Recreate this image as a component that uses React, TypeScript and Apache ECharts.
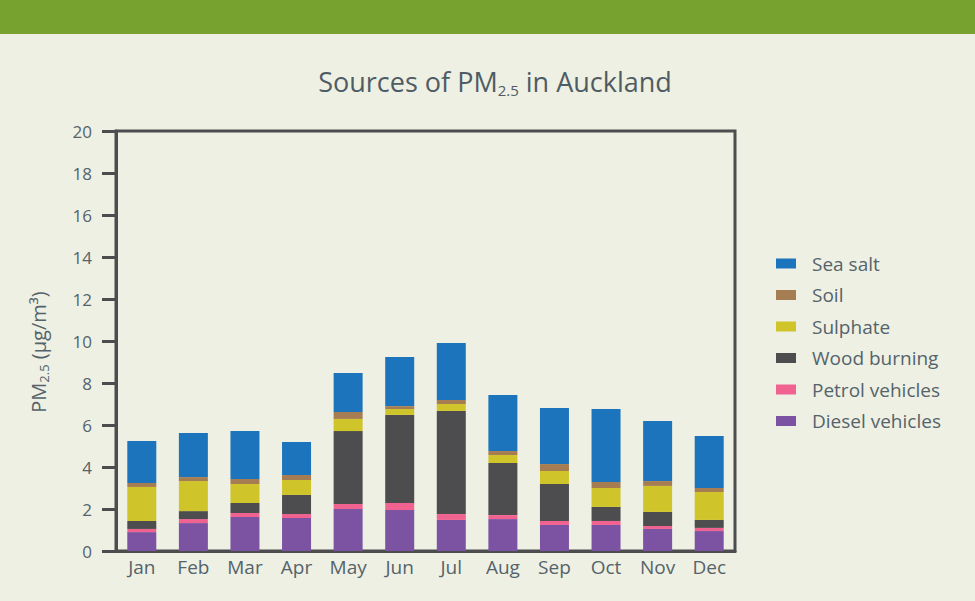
import React, { useEffect, useRef } from "react";
import * as echarts from "echarts";

const months = ["Jan", "Feb", "Mar", "Apr", "May", "Jun", "Jul", "Aug", "Sep", "Oct", "Nov", "Dec"];
const diesel = [0.9, 1.33, 1.62, 1.57, 2.0, 1.95, 1.48, 1.52, 1.24, 1.24, 1.05, 0.95];
const petrol = [0.15, 0.19, 0.19, 0.19, 0.24, 0.34, 0.28, 0.19, 0.19, 0.19, 0.14, 0.15];
const wood = [0.38, 0.38, 0.48, 0.91, 3.47, 4.19, 4.91, 2.48, 1.76, 0.67, 0.67, 0.38];
const sulphate = [1.62, 1.43, 0.9, 0.71, 0.58, 0.28, 0.33, 0.38, 0.62, 0.9, 1.24, 1.33];
const soil = [0.19, 0.19, 0.24, 0.24, 0.33, 0.14, 0.19, 0.19, 0.33, 0.29, 0.23, 0.19];
const seaSalt = [2.0, 2.1, 2.28, 1.57, 1.86, 2.34, 2.71, 2.67, 2.67, 3.47, 2.86, 2.48];
const yTicks = [0, 2, 4, 6, 8, 10, 12, 14, 16, 18, 20];
const legendOrder = ["Sea salt", "Soil", "Sulphate", "Wood burning", "Petrol vehicles", "Diesel vehicles"];

const TEXT = "#55636b";
const AXIS = "#4d4d4f";

export default function App() {
  const ref = useRef<HTMLDivElement>(null);
  useEffect(() => {
    document.body.style.margin = "0";
    const chart = echarts.init(ref.current!, null, { renderer: "svg" });
    const mk = (name: string, data: number[], color: string) => ({
      name,
      type: "bar",
      stack: "pm",
      data,
      barWidth: 29,
      itemStyle: { color },
    });
    chart.setOption({
      animation: false,
      backgroundColor: "#eef0e3",
      textStyle: { fontFamily: "Open Sans" },
      title: {
        text: "Sources of PM{sub|2.5} in Auckland",
        left: 490,
        textAlign: "center",
        top: 60,
        textStyle: {
          fontFamily: "Open Sans",
          fontSize: 27,
          fontWeight: "normal",
          color: "#4f5c64",
          lineHeight: 32,
          rich: {
            sub: { fontSize: 15, color: "#4f5c64", verticalAlign: "bottom", lineHeight: 12, fontFamily: "Open Sans" },
          },
        },
      },
      legend: {
        data: legendOrder,
        orient: "vertical",
        left: 776,
        top: 254,
        itemWidth: 20,
        itemHeight: 10,
        itemGap: 12.5,
        icon: "rect",
        padding: 0,
        textStyle: { fontSize: 19, color: TEXT, padding: [0, 0, 0, 11] },
      },
      graphic: [
        { type: "rect", shape: { x: 0, y: 0, width: 975, height: 34 }, style: { fill: "#78a22f" } },
        {
          type: "text",
          x: 38,
          y: 352,
          rotation: Math.PI / 2,
          style: {
            text: "PM{sub|2.5} (µg/m³)",
            align: "center",
            verticalAlign: "middle",
            fontSize: 20,
            fontFamily: "Open Sans",
            fill: TEXT,
            lineHeight: 24,
            rich: {
              sub: { fontSize: 13, fill: TEXT, verticalAlign: "bottom", lineHeight: 12, fontFamily: "Open Sans" },
            },
          },
        },
      ],
      grid: {
        left: 116,
        top: 131,
        width: 619,
        height: 420,
        show: true,
        borderColor: AXIS,
        borderWidth: 3,
        backgroundColor: "transparent",
      },
      xAxis: {
        type: "category",
        data: months,
        axisLine: { lineStyle: { color: AXIS, width: 3 } },
        axisTick: { show: false },
        axisLabel: { fontSize: 19, color: TEXT, margin: 6 },
      },
      yAxis: {
        type: "value",
        min: yTicks[0],
        max: yTicks[yTicks.length - 1],
        interval: 2,
        axisLine: { show: true, lineStyle: { color: AXIS, width: 3 } },
        axisTick: { show: true, length: 14, lineStyle: { color: AXIS, width: 3 } },
        splitLine: { show: false },
        axisLabel: { fontSize: 17, color: TEXT, margin: 24 },
      },
      series: [
        mk("Diesel vehicles", diesel, "#7b53a2"),
        mk("Petrol vehicles", petrol, "#f06290"),
        mk("Wood burning", wood, "#4d4d4f"),
        mk("Sulphate", sulphate, "#cfc42a"),
        mk("Soil", soil, "#a67c52"),
        mk("Sea salt", seaSalt, "#1c75bc"),
      ],
    });
    return () => chart.dispose();
  }, []);
  return <div ref={ref} style={{ width: 975, height: 601 }} />;
}
